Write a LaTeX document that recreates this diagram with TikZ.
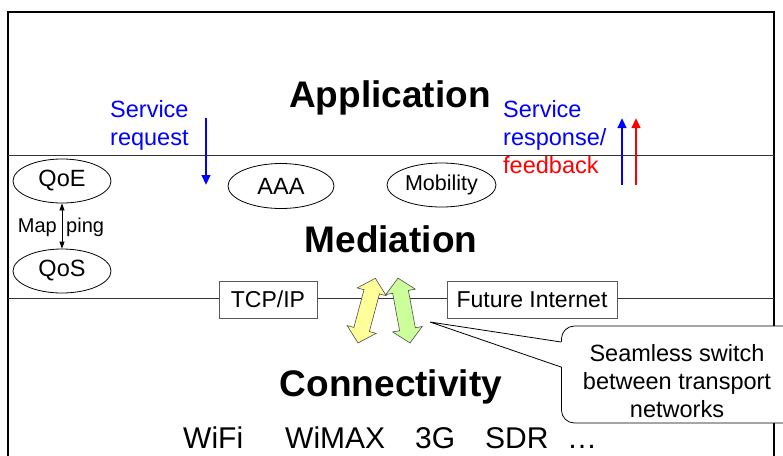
\documentclass[tikz,border=0pt]{standalone}
\usepackage{fontspec}
\setmainfont{Liberation Sans}
\usetikzlibrary{arrows.meta,shapes.geometric}
\definecolor{reqblue}{RGB}{0,0,255}
\definecolor{fbred}{RGB}{255,0,0}
\definecolor{armyellow}{RGB}{255,255,153}
\definecolor{armgreen}{RGB}{204,255,153}

\begin{document}
\begin{tikzpicture}[x=1pt,y=-1pt,
  layer/.style={font=\fontsize{37}{41}\selectfont\bfseries, inner sep=0pt, anchor=base},
  lbl/.style={font=\fontsize{23.5}{28}\selectfont, inner sep=0pt, anchor=base west},
  func/.style={draw, ellipse, line width=0.8pt, minimum width=98pt, minimum height=44pt,
    inner sep=0pt, font=\fontsize{23.5}{26}\selectfont},
  proto/.style={draw=black!65, fill=white, line width=0.9pt, minimum height=37pt,
    inner sep=0pt, font=\fontsize{23}{26}\selectfont},
  tech/.style={font=\fontsize{30}{34}\selectfont, inner sep=0pt, anchor=base west},
  note/.style={font=\fontsize{23.5}{28}\selectfont, inner sep=0pt, anchor=base},
  flow/.style={line width=2.6pt, -{Triangle[width=8.5pt,length=10pt]}},
  swap/.style={draw=black!70, line width=0.6pt, line join=miter},
]
\useasboundingbox (0,0) rectangle (783,455);
\clip (0,0) rectangle (783,455);

% outer frame (open at the bottom) and layer separators
\draw[line width=2.5pt] (8,470) -- (8,12) -- (774,12) -- (774,470);
\draw[black!80, line width=1pt] (8,155) -- (774,155);
\draw[black!80, line width=1pt] (8,298) -- (774,298);

% layer titles
\node[layer] (app) at (390,107) {Application};
\node[layer] (med) at (391,252) {Mediation};
\node[layer] (con) at (391,396) {Connectivity};

% service request going down
\node[lbl, text=reqblue] (req1) at (110,117) {Service};
\node[lbl, text=reqblue] (req2) at (110,145) {request};
\coordinate (reqtop) at (206,118);
\coordinate (reqbot) at (206,185);
\draw[flow, reqblue] (reqtop) -- (reqbot);

% response and feedback going up
\node[lbl, text=reqblue] (resp1) at (503,117) {Service};
\node[lbl, text=reqblue] (resp2) at (503,145) {response/};
\node[lbl, text=fbred] (resp3) at (503,173) {feedback};
\coordinate (respbot) at (622,185);
\coordinate (resptop) at (622,118);
\coordinate (fbbot) at (636,185);
\coordinate (fbtop) at (636,118);
\draw[flow, reqblue] (respbot) -- (resptop);
\draw[flow, fbred] (fbbot) -- (fbtop);

% mediation functions
\node[func] (qoe) at (62,181) {QoE};
\node[func] (qos) at (62,271) {QoS};
\node[func, minimum width=106pt, minimum height=45pt] (aaa) at (281,186) {AAA};
\node[func, minimum width=109pt, minimum height=44pt, font=\fontsize{21.5}{24}\selectfont] (mob) at (441.5,185) {Mobility};

\draw[line width=0.8pt, {Triangle[width=5pt,length=7pt]}-{Triangle[width=5pt,length=7pt]}] (qoe) -- (qos);
\node[font=\fontsize{20}{22}\selectfont, inner sep=0pt, anchor=base east] (map1) at (57,232) {Map};
\node[font=\fontsize{20}{22}\selectfont, inner sep=0pt, anchor=base west] (map2) at (66,232) {ping};

% transport protocols on the lower separator
\node[proto, minimum width=98pt] (tcp) at (268,299.5) {TCP/IP};
\node[proto, minimum width=170pt] (fi) at (532,299.5) {Future Internet};

% switching arrows
\begin{scope}[shift={(358,343)}, rotate=75]
  \filldraw[swap, fill=armyellow] (0,0) -- (14,15) -- (14,8) -- (53,8) -- (53,15) -- (67,0)
    -- (53,-15) -- (53,-8) -- (14,-8) -- (14,-15) -- cycle;
\end{scope}
\begin{scope}[shift={(410,343)}, rotate=100.5]
  \filldraw[swap, fill=armgreen] (0,0) -- (14,15) -- (14,8) -- (52,8) -- (52,15) -- (66,0)
    -- (52,-15) -- (52,-8) -- (14,-8) -- (14,-15) -- cycle;
\end{scope}

% callout
\node[draw, fill=white, line width=0.8pt, rounded corners=13pt, minimum width=260pt,
  minimum height=97pt, inner sep=0pt, anchor=west] (callout) at (561,374.5) {};
\coordinate (tip) at (430,322);
\coordinate (ptA) at (561,342);
\coordinate (ptB) at (561,367);
\fill[white] (tip) -- ([xshift=1.5pt]ptA) -- ([xshift=1.5pt]ptB) -- cycle;
\draw[line width=0.8pt] (ptA) -- (tip) -- (ptB);
\node[note] (n1) at (677,361) {Seamless switch};
\node[note] (n2) at (677,389) {between transport};
\node[note] (n3) at (677,417) {networks};

% access technologies
\node[tech] (wifi) at (183,448) {WiFi};
\node[tech] (wimax) at (285,448) {WiMAX};
\node[tech] (g3) at (415,448) {3G};
\node[tech] (sdr) at (485,448) {SDR};
\node[tech] (more) at (567,448) {…};
\end{tikzpicture}
\end{document}
